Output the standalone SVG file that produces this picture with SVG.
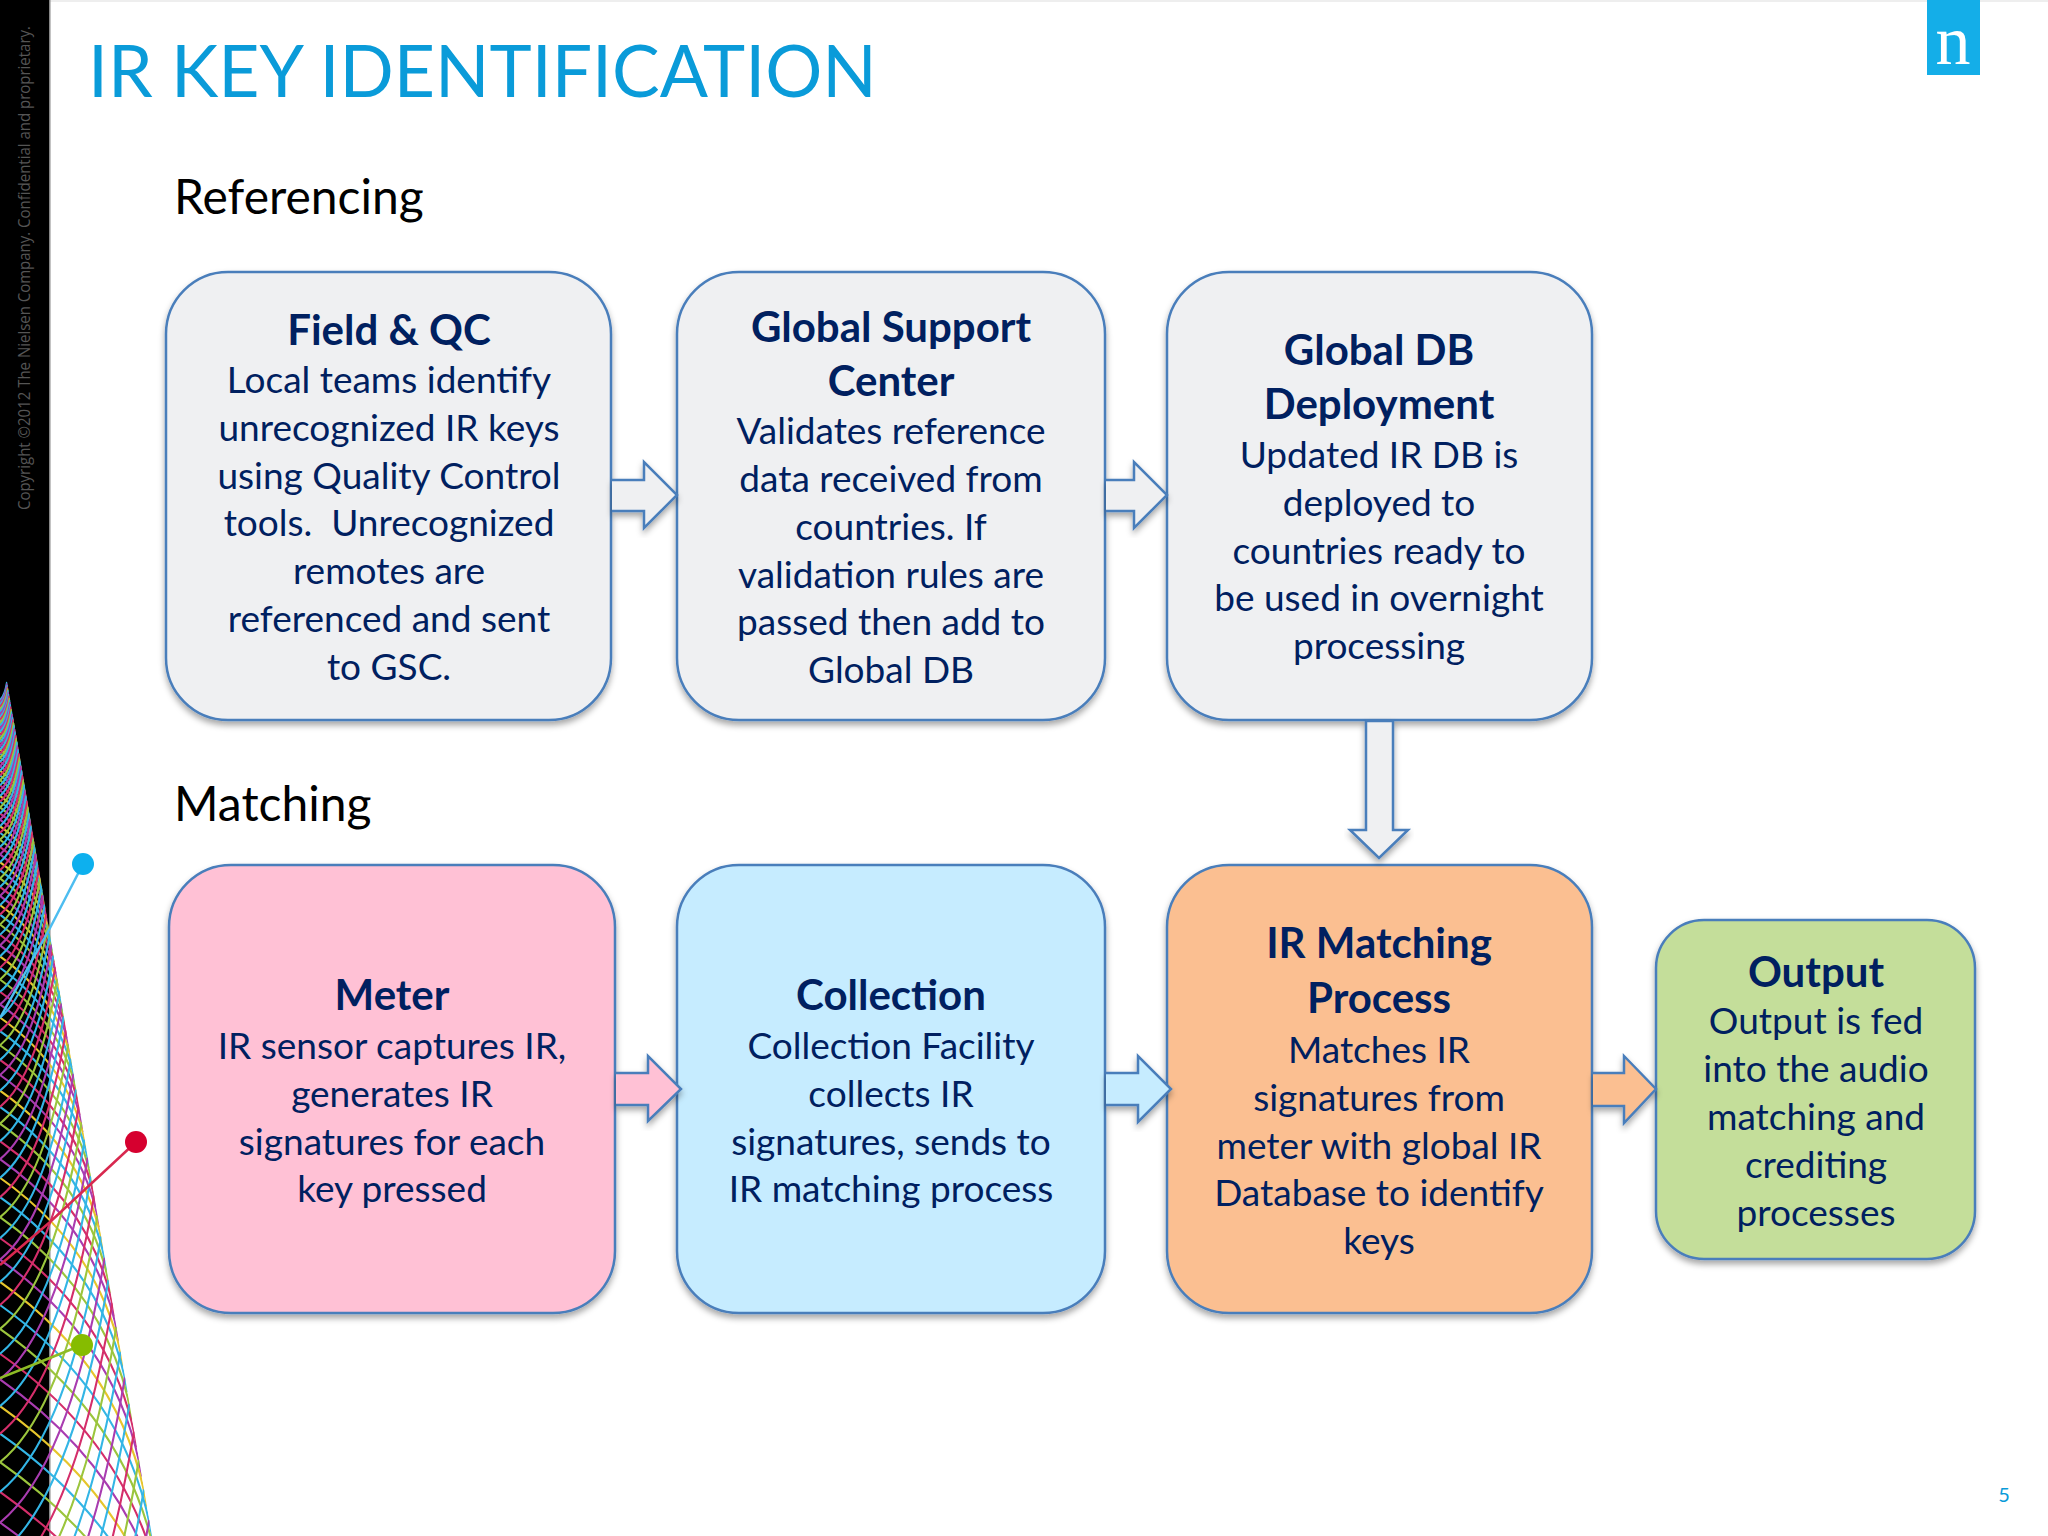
<svg xmlns="http://www.w3.org/2000/svg" xmlns:xlink="http://www.w3.org/1999/xlink" width="2048" height="1536" viewBox="0 0 2048 1536">
<style>
text{font-family:"Lato","Open Sans","Liberation Sans",sans-serif}
.t{font-size:37px;fill:#002060;text-anchor:middle}
.h{font-size:42px;font-weight:700;fill:#002060;text-anchor:middle}
.sec{font-size:48px;fill:#000}
.box{stroke:#4a7ebb;stroke-width:2.5;filter:url(#sh)}
.arr{stroke:#4a7ebb;stroke-width:2.5;stroke-linejoin:miter;filter:url(#sh)}
.g{fill:#eff0f2}.p{fill:#ffc1d5}.b{fill:#c6ecff}.o{fill:#fbbf91}.n{fill:#c4de9a}
.la{fill:none;stroke-width:2.1;vector-effect:non-scaling-stroke}
</style>
<defs>
<filter id="sh" x="-10%" y="-10%" width="120%" height="125%"><feDropShadow dx="0" dy="4" stdDeviation="3" flood-color="#000" flood-opacity="0.35"/></filter>
<clipPath id="env"><path d="M0 640L155 1554H0Z"/></clipPath>
<path id="a" class="la" d="M0 60q11.55 8.1 13.74 21"/>
<path id="c" class="la" d="M0 60Q4.704 56.2 7.116 42"/>
<g id="A1">
<use href="#a" stroke="#d42e6a"/>
<use href="#a" stroke="#a93cb0" transform="scale(1.036)"/>
<use href="#a" stroke="#e6c52c" transform="scale(1.0733)"/>
<use href="#a" stroke="#33b5e5" transform="scale(1.1119)"/>
<use href="#a" stroke="#9bc53d" transform="scale(1.1519)"/>
</g>
<g id="B1">
<use href="#c" stroke="#33b5e5"/>
<use href="#c" stroke="#a93cb0" transform="scale(1.036)"/>
<use href="#c" stroke="#33b5e5" transform="scale(1.0733)"/>
<use href="#c" stroke="#d42e6a" transform="scale(1.1119)"/>
<use href="#c" stroke="#9bc53d" transform="scale(1.1519)"/>
</g>
<g id="F1"><use href="#A1"/><use href="#B1"/></g>
<g id="F2"><use href="#F1"/><use href="#F1" transform="scale(1.1935)"/></g>
<g id="F4"><use href="#F2"/><use href="#F2" transform="scale(1.4244)"/></g>
<g id="F8"><use href="#F4"/><use href="#F4" transform="scale(2.0289)"/></g>
<g id="F16"><use href="#F8"/><use href="#F8" transform="scale(4.1164)"/></g>
</defs>
<rect width="2048" height="1536" fill="#fff"/>
<rect width="2048" height="2" fill="#eee"/>
<rect id="band" x="0" y="0" width="50" height="1536" fill="#000"/>
<rect x="49" y="0" width="1.5" height="1536" fill="#888"/>
<text transform="translate(30 510) rotate(-90)" style="font-family:'Open Sans',sans-serif;font-size:15.5px" fill="#555" textLength="484" lengthAdjust="spacingAndGlyphs">Copyright ©2012 The Nielsen Company. Confidential and proprietary.</text>
<g id="lattice" clip-path="url(#env)">
<g transform="translate(0 640)">
<use href="#F16"/>
<use href="#F2" transform="scale(16.945)"/>
</g>
</g>
<g id="pins" stroke-width="2.5" fill="none">
<path d="M83 864L50 928L0 1018" stroke="#4dbdf0"/>
<path d="M136 1142L50 1222L0 1265" stroke="#d8284f"/>
<path d="M82 1345L40 1362L0 1378" stroke="#8dbb25"/>
<circle cx="83" cy="864" r="11" fill="#0db0ee"/>
<circle cx="136" cy="1142" r="11" fill="#d6002f"/>
<circle cx="82" cy="1345" r="11" fill="#86bc00"/>
</g>
<text id="title" x="88" y="97" font-size="71.4" fill="#0a9bd9">IR KEY IDENTIFICATION</text>
<g id="logo"><rect x="1927" y="0" width="53" height="75" fill="#14aee8"/><text x="1953" y="64" font-size="70" fill="#fff" text-anchor="middle" style="font-family:'Liberation Serif',serif">n</text></g>
<text id="sec1" class="sec" x="174" y="214">Referencing</text>
<text id="sec2" class="sec" x="174" y="821">Matching</text>
<g id="field-qc"><rect class="box g" x="166" y="272" width="445" height="448" rx="62"/>
<text class="h" x="389" y="345">Field &amp; QC</text>
<text class="t" x="389" y="393">Local teams identify</text><text class="t" x="389" y="441">unrecognized IR keys</text><text class="t" x="389" y="489">using Quality Control</text><text class="t" x="389" y="536" xml:space="preserve">tools.  Unrecognized</text><text class="t" x="389" y="584">remotes are</text><text class="t" x="389" y="632">referenced and sent</text><text class="t" x="389" y="680">to GSC.</text></g>
<g id="global-support"><rect class="box g" x="677" y="272" width="428" height="448" rx="62"/>
<text class="h" x="891" y="342">Global Support</text><text class="h" x="891" y="396">Center</text>
<text class="t" x="891" y="444">Validates reference</text><text class="t" x="891" y="492">data received from</text><text class="t" x="891" y="540">countries. If</text><text class="t" x="891" y="588">validation rules are</text><text class="t" x="891" y="635">passed then add to</text><text class="t" x="891" y="683">Global DB</text></g>
<g id="global-db"><rect class="box g" x="1167" y="272" width="425" height="448" rx="62"/>
<text class="h" x="1379" y="365">Global DB</text><text class="h" x="1379" y="419">Deployment</text>
<text class="t" x="1379" y="468">Updated IR DB is</text><text class="t" x="1379" y="516">deployed to</text><text class="t" x="1379" y="564">countries ready to</text><text class="t" x="1379" y="611">be used in overnight</text><text class="t" x="1379" y="659">processing</text></g>
<g id="meter"><rect class="box p" x="169" y="865" width="446" height="448" rx="62"/>
<text class="h" x="392" y="1010">Meter</text>
<text class="t" x="392" y="1059">IR sensor captures IR,</text><text class="t" x="392" y="1107">generates IR</text><text class="t" x="392" y="1155">signatures for each</text><text class="t" x="392" y="1202">key pressed</text></g>
<g id="collection"><rect class="box b" x="677" y="865" width="428" height="448" rx="62"/>
<text class="h" x="891" y="1010">Collection</text>
<text class="t" x="891" y="1059">Collection Facility</text><text class="t" x="891" y="1107">collects IR</text><text class="t" x="891" y="1155">signatures, sends to</text><text class="t" x="891" y="1202">IR matching process</text></g>
<g id="ir-matching"><rect class="box o" x="1167" y="865" width="425" height="448" rx="62"/>
<text class="h" x="1379" y="958">IR Matching</text><text class="h" x="1379" y="1013">Process</text>
<text class="t" x="1379" y="1063">Matches IR</text><text class="t" x="1379" y="1111">signatures from</text><text class="t" x="1379" y="1159">meter with global IR</text><text class="t" x="1379" y="1206">Database to identify</text><text class="t" x="1379" y="1254">keys</text></g>
<g id="output"><rect class="box n" x="1656" y="920" width="319" height="339" rx="48"/>
<text class="h" x="1816" y="987">Output</text>
<text class="t" x="1816" y="1034">Output is fed</text><text class="t" x="1816" y="1082">into the audio</text><text class="t" x="1816" y="1130">matching and</text><text class="t" x="1816" y="1178">crediting</text><text class="t" x="1816" y="1226">processes</text></g>
<g id="connectors">
<path class="arr g" d="M612 480H644V462L677 495L644 528V511H612"/>
<path class="arr g" d="M1106 480H1134V462L1167 495L1134 528V511H1106"/>
<path class="arr g" d="M1366 721H1393V830H1408L1379 858L1350 830H1366V721"/>
<path class="arr p" d="M616 1073H648V1056L681 1089L648 1121V1105H616"/>
<path class="arr b" d="M1106 1073H1138V1056L1171 1089L1138 1122V1105H1106"/>
<path class="arr o" d="M1593 1073H1624V1056L1656 1089L1624 1123V1106H1593"/>
</g>
<text id="page" x="2004" y="1502" font-size="20" fill="#0a9bd9" text-anchor="middle">5</text>
</svg>
